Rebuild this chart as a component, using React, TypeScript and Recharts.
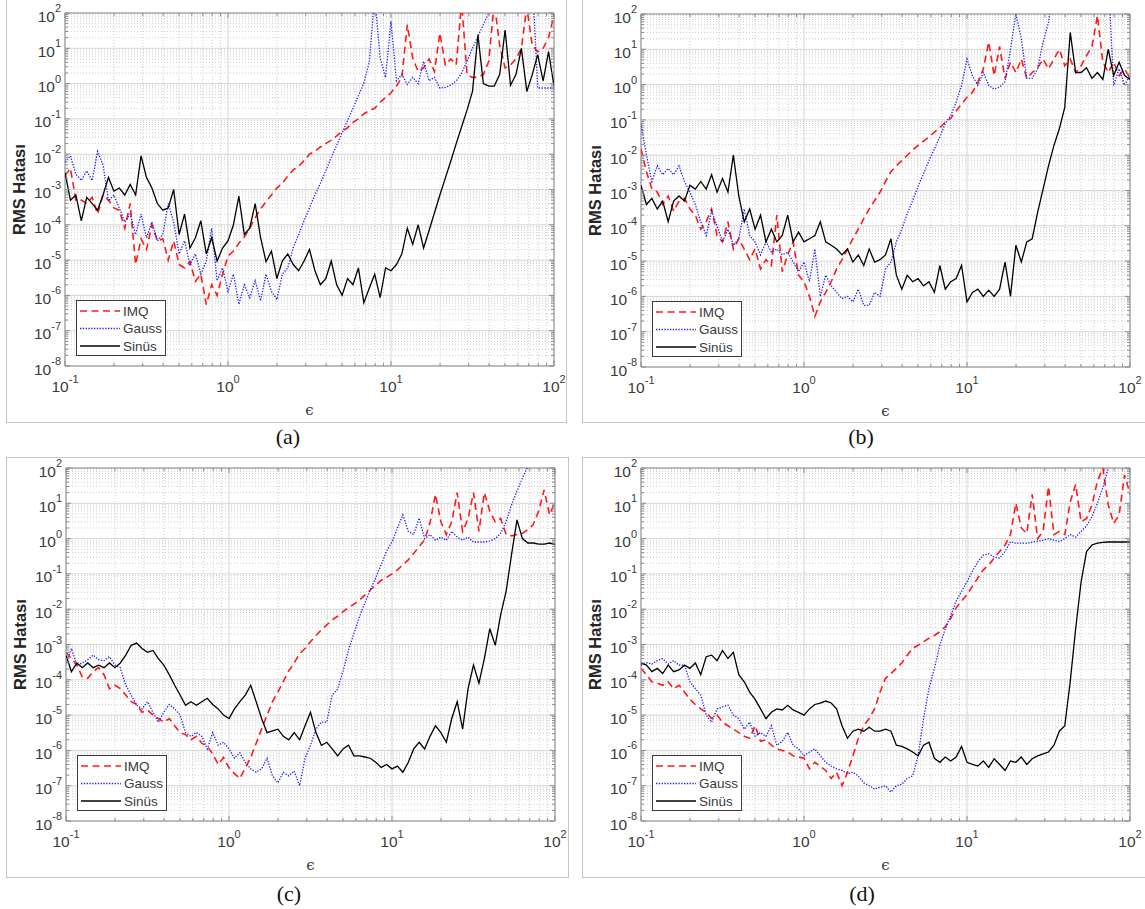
import React from 'react';
import { LineChart, Line, XAxis, YAxis, CartesianGrid, ReferenceArea, Legend } from 'recharts';

// epsilon values (shared x categories, 1/30 decade steps)
const EPS = [
  0.1, 0.108, 0.1166, 0.1259, 0.1359, 0.1468, 0.1585, 0.1711, 0.1848, 0.1995,
  0.2154, 0.2326, 0.2512, 0.2712, 0.2929, 0.3162, 0.3415, 0.3687, 0.3981, 0.4299,
  0.4642, 0.5012, 0.5412, 0.5843, 0.631, 0.6813, 0.7356, 0.7943, 0.8577, 0.9261,
  1, 1.08, 1.166, 1.259, 1.359, 1.468, 1.585, 1.711, 1.848, 1.995,
  2.154, 2.326, 2.512, 2.712, 2.929, 3.162, 3.415, 3.687, 3.981, 4.299,
  4.642, 5.012, 5.412, 5.843, 6.31, 6.813, 7.356, 7.943, 8.577, 9.261,
  10, 10.8, 11.66, 12.59, 13.59, 14.68, 15.85, 17.11, 18.48, 19.95,
  21.54, 23.26, 25.12, 27.12, 29.29, 31.62, 34.15, 36.87, 39.81, 42.99,
  46.42, 50.12, 54.12, 58.43, 63.1, 68.13, 73.56, 79.43, 85.77, 92.61,
  100,
];

// ---- panel (a)
const IMQ_A = [
  2.5e-3, 4e-3, 5e-4, 5e-4, 4e-4, 6e-4, 2e-4, 7e-4, 5e-4, 3e-4,
  2.6e-4, 8e-5, 4e-4, 7.5e-6, 4e-5, 2e-5, 1e-4, 3.5e-5, 4e-5, 1e-5,
  3.5e-5, 7.5e-6, 6e-6, 9e-6, 2.5e-6, 4e-6, 5.5e-7, 2e-6, 1e-6, 4e-6,
  1.3e-5, 1.8e-5, 3e-5, 4.5e-5, 8e-5, 1.6e-4, 2.8e-4, 4.5e-4, 7e-4, 1.1e-3,
  1.5e-3, 2.4e-3, 3.6e-3, 4.5e-3, 6.6e-3, 1e-2, 1.2e-2, 1.6e-2, 2e-2, 2.5e-2,
  3.3e-2, 4.5e-2, 5.6e-2, 8e-2, 0.1, 0.14, 0.17, 0.2, 0.3, 0.4,
  0.55, 0.85, 1.5, 47, 5.3, 2.2, 2.8, 5, 2.2, 27,
  3.4, 5, 3.4, 200, 1.8, 1.5, 1.5, 1.8, 4.3, 200,
  12, 2.8, 3.4, 5, 10, 150, 12, 8, 10, 20,
  90,
];
const GAUSS_A = [
  6e-3, 9e-3, 2.7e-3, 1.8e-3, 3.4e-3, 1.8e-3, 1.2e-2, 5e-3, 4.7e-4, 7e-4,
  3e-4, 1.2e-4, 2e-4, 5.3e-5, 2e-4, 4.3e-5, 1.2e-4, 3.5e-5, 5.3e-5, 4e-4,
  1.2e-4, 1.5e-5, 3.5e-5, 7.5e-6, 1.5e-5, 4e-6, 9.4e-6, 8e-5, 2.6e-6, 6e-6,
  1.3e-6, 4e-6, 5.6e-7, 2e-6, 8.6e-7, 2.6e-6, 7e-7, 4e-6, 1.3e-6, 7.7e-7,
  4e-6, 6e-6, 2.2e-5, 5.3e-5, 1.3e-4, 3e-4, 7e-4, 1.5e-3, 3.4e-3, 8e-3,
  1.8e-2, 4e-2, 9e-2, 0.2, 0.45, 1.05, 4, 300, 5.3, 1.5,
  58, 1.2, 1.8, 0.95, 1.5, 1, 4.3, 1.2, 1.5, 0.75,
  0.78, 0.9, 1.2, 2, 4.3, 10, 22, 47, 100, 1000,
  1000, 1000, 1000, 1000, 1000, 1000, 1000, 0.75, 0.75, 0.75,
  0.75,
];
const SINUS_A = [
  3e-3, 5e-4, 7e-4, 1.3e-4, 6e-4, 4e-4, 2.6e-4, 7e-4, 2.2e-3, 9e-4,
  1.1e-3, 7e-4, 1.4e-3, 7e-4, 9e-3, 2.2e-3, 1.1e-3, 4e-4, 2.6e-4, 3e-4,
  1e-3, 5.3e-5, 2e-4, 2.2e-5, 4.3e-5, 1.3e-4, 1.5e-5, 4.3e-5, 9.4e-6, 2.2e-5,
  3.5e-5, 1e-4, 6.5e-4, 5.3e-5, 8e-5, 4e-4, 4.3e-5, 9e-6, 1.8e-5, 3e-6,
  9.4e-6, 1.5e-5, 7.5e-6, 5e-6, 9.4e-6, 2e-5, 5e-6, 2e-6, 3e-6, 9.4e-6,
  2e-6, 1e-6, 3e-6, 2e-6, 6e-6, 6.2e-7, 1.6e-6, 4e-6, 8.6e-7, 6e-6,
  5e-6, 7.5e-6, 1.5e-5, 8e-5, 2.8e-5, 1e-4, 2.2e-5, 6.8e-5, 2.2e-4, 7e-4,
  2.1e-3, 6.3e-3, 2e-2, 6e-2, 0.18, 0.6, 24, 1, 0.85, 0.85,
  1.8, 33, 0.9, 1.8, 10, 0.6, 1.8, 6.6, 1.2, 8,
  0.85,
];

// ---- panel (b)
const IMQ_B = [
  1.5e-2, 3.4e-3, 1.1e-3, 9e-4, 4e-4, 7e-4, 2.6e-4, 5e-4, 6e-4, 3e-4,
  2e-4, 8e-5, 1.3e-4, 3e-4, 5.3e-5, 3.5e-5, 1.3e-4, 2.2e-5, 4.3e-5, 2.2e-5,
  1.1e-5, 2.2e-5, 6e-6, 1.1e-5, 7.5e-6, 2e-4, 5e-6, 1.5e-5, 3.5e-5, 4e-6,
  2.6e-6, 1e-6, 2.7e-7, 7e-7, 1.3e-6, 2.6e-6, 6e-6, 1.1e-5, 2.2e-5, 4.3e-5,
  8e-5, 1.6e-4, 3e-4, 5.2e-4, 9e-4, 1.8e-3, 3.4e-3, 5e-3, 7e-3, 1e-2,
  1.4e-2, 1.9e-2, 2.5e-2, 3.3e-2, 4.5e-2, 6e-2, 8.6e-2, 0.11, 0.18, 0.28,
  0.44, 0.6, 1.2, 2.8, 16, 1.8, 12, 1.5, 4.3, 2.2,
  5.3, 1.5, 2.2, 3, 5.3, 2.8, 5.3, 10, 3.4, 5.3,
  2.2, 3.4, 6.6, 12, 90, 4.3, 2.2, 4.3, 1.8, 2.8,
  1.5,
];
const GAUSS_B = [
  8e-2, 1e-2, 1.8e-3, 5e-3, 2.8e-3, 4.2e-3, 2.8e-3, 5e-3, 1.8e-3, 9e-4,
  4e-4, 1.3e-4, 5.3e-5, 2.6e-4, 1e-4, 3.5e-5, 8e-5, 2.8e-5, 4.3e-5, 3e-4,
  5.3e-5, 3.5e-5, 1.5e-5, 3.5e-5, 1.8e-5, 2.2e-5, 1.5e-5, 1.8e-5, 9.4e-6, 5e-6,
  9.4e-6, 2.6e-6, 2.2e-5, 1e-6, 4e-6, 2e-6, 1.3e-6, 8.6e-7, 1e-6, 7e-7,
  1.6e-6, 5.6e-7, 5.6e-7, 1.3e-6, 1e-6, 6e-6, 9.4e-6, 3.5e-5, 8e-5, 2.2e-4,
  5.2e-4, 1.3e-3, 3e-3, 7e-3, 1.5e-2, 3.3e-2, 8e-2, 0.13, 0.32, 0.95,
  5.3, 1.8, 0.95, 2.2, 0.95, 0.75, 0.85, 1.2, 10, 100,
  20, 1.5, 1.5, 2.8, 16, 58, 1000, 1000, 1000, 1000,
  1000, 1000, 1000, 1000, 1000, 1000, 1000, 0.95, 2.8, 0.95,
  1.8,
];
const SINUS_B = [
  1.4e-3, 4e-4, 6e-4, 3e-4, 5e-4, 1.3e-4, 5e-4, 7e-4, 5e-4, 1.4e-3,
  1.1e-3, 1.8e-3, 1.1e-3, 2.8e-3, 9e-4, 2.2e-3, 9e-4, 1e-2, 7e-4, 1.3e-4,
  3e-4, 8e-5, 2e-4, 3.5e-5, 8e-5, 3.5e-5, 5.3e-5, 2e-4, 3.5e-5, 6.6e-5,
  3.5e-5, 4.3e-5, 5.3e-5, 1.3e-4, 3.5e-5, 2.8e-5, 2.2e-5, 1.5e-5, 2.2e-5, 9.4e-6,
  1.5e-5, 7.5e-6, 2.2e-5, 9.4e-6, 1.1e-5, 1.5e-5, 4.3e-5, 4e-6, 1.6e-6, 4e-6,
  2.6e-6, 3.2e-6, 2e-6, 2.6e-6, 1.3e-6, 7.5e-6, 1.6e-6, 2.6e-6, 3.2e-6, 7.5e-6,
  7e-7, 1.3e-6, 1.6e-6, 1e-6, 1.5e-6, 1e-6, 1.6e-6, 9.4e-6, 1e-6, 2.8e-5,
  9.4e-6, 3.5e-5, 4.3e-5, 2.4e-4, 1.1e-3, 5e-3, 1.9e-2, 5.6e-2, 0.23, 30,
  2.2, 2.2, 3, 1.5, 2.2, 1.4, 10, 1.8, 4.3, 1.8,
  1.4,
];

// ---- panel (c)
const IMQ_C = [
  6e-4, 4e-4, 2.6e-4, 1.2e-4, 1.1e-4, 1.7e-4, 2.2e-4, 1.4e-4, 5.6e-5, 7e-5,
  5.6e-5, 3.7e-5, 2.4e-5, 2e-5, 1.2e-5, 1.4e-5, 1e-5, 8e-6, 6.3e-6, 8e-6,
  5e-6, 3.2e-6, 2.8e-6, 2e-6, 2.5e-6, 1.6e-6, 1.3e-6, 8e-7, 4e-7, 6.3e-7,
  3.2e-7, 2.2e-7, 1.6e-7, 3.2e-7, 6.3e-7, 1.6e-6, 4e-6, 1e-5, 2.4e-5, 4.5e-5,
  9e-5, 1.8e-4, 3e-4, 5.5e-4, 7.7e-4, 1.2e-3, 1.8e-3, 2.6e-3, 3.6e-3, 5e-3,
  6.3e-3, 8.6e-3, 1.1e-2, 1.4e-2, 1.8e-2, 2.5e-2, 3.5e-2, 4.7e-2, 6.6e-2, 8e-2,
  0.1, 0.13, 0.18, 0.25, 0.38, 0.6, 0.92, 2.8, 18, 3,
  1.3, 3, 20, 1.6, 3.7, 20, 1.6, 20, 6, 3,
  3.7, 1.3, 1.2, 1.3, 1.4, 1.8, 2.5, 6, 24, 4.7,
  11,
];
const GAUSS_C = [
  3e-4, 7.7e-4, 2.6e-4, 3e-4, 3.7e-4, 5e-4, 3.7e-4, 3.5e-4, 4.5e-4, 2.6e-4,
  2.2e-4, 7e-5, 3.7e-5, 1.9e-5, 1.5e-5, 2.4e-5, 1.2e-5, 6.3e-6, 1.2e-5, 2e-5,
  1.5e-5, 1e-5, 3.2e-6, 2.5e-6, 3.2e-6, 2.5e-6, 1.1e-6, 3.2e-6, 1.4e-6, 1.7e-6,
  1.1e-6, 6e-7, 8.6e-7, 4.6e-7, 3e-7, 2.4e-7, 3e-7, 6e-7, 1.9e-7, 1.2e-7,
  2.4e-7, 1.9e-7, 2.6e-7, 1e-7, 6e-7, 1.4e-6, 4e-6, 6.3e-6, 6.3e-6, 3.7e-5,
  5.5e-5, 1.8e-4, 7e-4, 2.1e-3, 6e-3, 1.5e-2, 3.5e-2, 7.7e-2, 0.18, 0.45,
  0.8, 2, 4.7, 1.6, 1.3, 3.8, 1, 1.3, 0.9, 1.1,
  0.9, 1.6, 1.1, 0.9, 1.1, 0.8, 0.8, 0.8, 0.85, 1,
  1.4, 3, 9, 22, 52, 110, 1000, 1000, 1000, 1000,
  1000,
];
const SINUS_C = [
  5e-4, 1.7e-4, 3e-4, 2.2e-4, 3e-4, 2.2e-4, 2.6e-4, 2.2e-4, 3e-4, 2.2e-4,
  3e-4, 5e-4, 9.5e-4, 1.1e-3, 7.7e-4, 6e-4, 6.8e-4, 4e-4, 2.6e-4, 1.4e-4,
  7e-5, 3.7e-5, 1.9e-5, 2.4e-5, 1.9e-5, 2.4e-5, 3e-5, 2e-5, 1.5e-5, 1e-5,
  8e-6, 1.5e-5, 2.4e-5, 3.7e-5, 7e-5, 2.4e-5, 8e-6, 3.2e-6, 3.6e-6, 4e-6,
  2.5e-6, 2e-6, 3.2e-6, 2e-6, 5e-6, 1.2e-5, 3.2e-6, 1.4e-6, 1.7e-6, 1.1e-6,
  7e-7, 1.1e-6, 1.4e-6, 7e-7, 7e-7, 6.5e-7, 6e-7, 4.6e-7, 3.3e-7, 4e-7,
  3e-7, 3.6e-7, 2.4e-7, 4.6e-7, 1.1e-6, 1.7e-6, 1.1e-6, 2.5e-6, 5e-6, 3.2e-6,
  1.7e-6, 8e-6, 2.4e-5, 4e-6, 5.6e-5, 2.6e-4, 8e-5, 4e-4, 2.8e-3, 9.5e-4,
  7e-3, 3.2e-2, 0.35, 3.4, 1, 0.75, 0.75, 0.7, 0.7, 0.75,
  0.68,
];

// ---- panel (d)
const IMQ_D = [
  2.1e-4, 1.4e-4, 8.8e-5, 8e-5, 7e-5, 8.8e-5, 5.6e-5, 7e-5, 4.5e-5, 2.8e-5,
  2e-5, 1.5e-5, 1.2e-5, 8e-6, 1e-5, 6.3e-6, 5e-6, 4e-6, 3.2e-6, 2.5e-6,
  2.2e-6, 5e-6, 1.8e-6, 2e-6, 1.4e-6, 1.1e-6, 1e-6, 9e-7, 7e-7, 6.5e-7,
  6e-7, 3e-7, 4.6e-7, 3.6e-7, 2.7e-7, 1.6e-7, 2.4e-7, 1e-7, 2.4e-7, 7e-7,
  2.2e-6, 5e-6, 8e-6, 1.5e-5, 4.5e-5, 1.1e-4, 1.5e-4, 2.1e-4, 3e-4, 5e-4,
  7.7e-4, 9.5e-4, 1.2e-3, 1.5e-3, 1.8e-3, 2.3e-3, 3.2e-3, 5.5e-3, 1.1e-2, 1.7e-2,
  2.6e-2, 4.5e-2, 7.7e-2, 0.13, 0.18, 0.28, 0.43, 0.66, 1.3, 10,
  2, 1.4, 18, 1, 1.6, 30, 1.3, 1.6, 1.3, 11,
  34, 3, 3.7, 9, 42, 100, 9, 2.7, 4.7, 64,
  18,
];
const GAUSS_D = [
  2.6e-4, 3e-4, 2.8e-4, 3.5e-4, 4e-4, 2.8e-4, 3.5e-4, 2.6e-4, 2.6e-4, 8.8e-5,
  5.6e-5, 3.7e-5, 1e-5, 6.3e-6, 1.5e-5, 1.7e-5, 1.9e-5, 1e-5, 8e-6, 4e-6,
  6.3e-6, 2.5e-6, 3.2e-6, 2.5e-6, 5e-6, 1.4e-6, 1.8e-6, 3.2e-6, 1.4e-6, 1.1e-6,
  7e-7, 9e-7, 1.1e-6, 7e-7, 4.6e-7, 3.6e-7, 3e-7, 2.7e-7, 2.2e-7, 2.4e-7,
  1.9e-7, 1.2e-7, 1e-7, 8e-8, 9e-8, 1e-7, 6.6e-8, 1e-7, 1.1e-7, 1.6e-7,
  1.9e-7, 7e-7, 8e-6, 5.6e-5, 2.1e-4, 9.5e-4, 2.8e-3, 6.6e-3, 1.7e-2, 3.2e-2,
  6e-2, 0.12, 0.22, 0.34, 0.37, 0.3, 0.28, 0.43, 0.82, 0.74,
  0.74, 0.74, 0.8, 0.85, 0.9, 1, 0.9, 0.82, 1, 1.3,
  1.1, 1.6, 2.3, 4.2, 10, 28, 100, 1000, 1000, 1000,
  1000,
];
const SINUS_D = [
  3e-4, 2.6e-4, 1.7e-4, 2.1e-4, 1.5e-4, 2.6e-4, 1.7e-4, 1.9e-4, 2.6e-4, 2.1e-4,
  3e-4, 1.4e-4, 4.5e-4, 5e-4, 3.5e-4, 6.8e-4, 4e-4, 6e-4, 1.4e-4, 8.8e-5,
  4.5e-5, 2.8e-5, 1.5e-5, 8e-6, 1.2e-5, 1.5e-5, 1.4e-5, 1.9e-5, 1.4e-5, 1.2e-5,
  1e-5, 1.5e-5, 2e-5, 2.2e-5, 2.5e-5, 2.2e-5, 1.5e-5, 5e-6, 2.2e-6, 3.5e-6,
  4e-6, 3.5e-6, 4.5e-6, 3.5e-6, 3.5e-6, 4e-6, 3.5e-6, 1.4e-6, 1.3e-6, 1.1e-6,
  9e-7, 7e-7, 1.4e-6, 1.7e-6, 6e-7, 4.6e-7, 6.5e-7, 5e-7, 6.5e-7, 1.3e-6,
  4.6e-7, 4e-7, 3.6e-7, 5e-7, 3.3e-7, 5.8e-7, 4e-7, 2.7e-7, 5e-7, 4.6e-7,
  6.5e-7, 4e-7, 5.8e-7, 7e-7, 8e-7, 9e-7, 1.4e-6, 3.5e-6, 5e-6, 9e-5,
  2.8e-3, 6e-2, 0.43, 0.66, 0.74, 0.78, 0.8, 0.8, 0.8, 0.8,
  0.8,
];

// tick exponents
const X_EXP = [-1, 0, 1, 2];
const Y_EXP = [-8, -7, -6, -5, -4, -3, -2, -1, 0, 1, 2];
const MANT = [1, 2, 3, 4, 5, 6, 7, 8, 9];
const buildTicks = (exps: number[]) => [
  ...exps.slice(0, -1).flatMap((e) => MANT.map((m) => m * 10 ** e)),
  10 ** exps[exps.length - 1],
];
const isMajor = (v: number) => Math.abs(Math.log10(v) - Math.round(Math.log10(v))) < 1e-9;
const X_TICKS = buildTicks(X_EXP);
const Y_TICKS = buildTicks(Y_EXP);
const X_MAJOR = X_TICKS.filter(isMajor);
const X_MINOR = X_TICKS.filter((v) => !isMajor(v));
const Y_MAJOR = Y_TICKS.filter(isMajor);
const Y_MINOR = Y_TICKS.filter((v) => !isMajor(v));

const SERIES = [
  { key: 'imq', name: 'IMQ', color: '#ff1a1a', dash: '7 4.5', width: 1.6 },
  { key: 'gauss', name: 'Gauss', color: '#1a1aff', dash: '1.3 1.5', width: 1.3 },
  { key: 'sinus', name: 'Sinüs', color: '#000000', dash: undefined as string | undefined, width: 1.3 },
];

const AXIS_COLOR = '#8c8c8c';
const TEXT = '#3a3a3a';
const FONT = '"Liberation Sans", Arial, Helvetica, sans-serif';
const PLOT_W = 489;
const PLOT_H = 353;

const PANELS = [
  { id: 'a', left: 0, top: 0, width: 572, height: 456, plotX: 65, plotY: 13, imq: IMQ_A, gauss: GAUSS_A, sinus: SINUS_A },
  { id: 'b', left: 574, top: 0, width: 571, height: 456, plotX: 641, plotY: 14, imq: IMQ_B, gauss: GAUSS_B, sinus: SINUS_B },
  { id: 'c', left: 0, top: 456, width: 572, height: 453, plotX: 66, plotY: 468, imq: IMQ_C, gauss: GAUSS_C, sinus: SINUS_C },
  { id: 'd', left: 574, top: 456, width: 571, height: 453, plotX: 641, plotY: 468, imq: IMQ_D, gauss: GAUSS_D, sinus: SINUS_D },
];

const FRAMES = [
  { left: 6, top: -1, width: 561, height: 424 },
  { left: 582, top: -1, width: 600, height: 424 },
  { left: 6, top: 457, width: 563, height: 421 },
  { left: 582, top: 457, width: 600, height: 421 },
];

const CAPTIONS = [
  { text: '(a)', x: 288, y: 437 },
  { text: '(b)', x: 861, y: 437 },
  { text: '(c)', x: 289, y: 894 },
  { text: '(d)', x: 862, y: 894 },
];

const makeXTick = (top: number, bottom: number) => (props: any) => {
  const { x, payload } = props;
  const v = payload.value as number;
  const major = isMajor(v);
  const len = major ? 5 : 3;
  return (
    <g>
      <line x1={x} x2={x} y1={bottom} y2={bottom - len} stroke={AXIS_COLOR} strokeWidth={1} />
      <line x1={x} x2={x} y1={top} y2={top + len} stroke={AXIS_COLOR} strokeWidth={1} />
      {major ? (
        <text x={x} y={bottom + 26} textAnchor="middle" fill={TEXT} fontFamily={FONT} fontSize={15.5}>
          10
          <tspan dy={-9} fontSize={11}>
            {Math.round(Math.log10(v))}
          </tspan>
        </text>
      ) : null}
    </g>
  );
};

const makeYTick = (left: number, right: number) => (props: any) => {
  const { y, payload } = props;
  const v = payload.value as number;
  const major = isMajor(v);
  const len = major ? 5 : 3;
  return (
    <g>
      <line x1={left} x2={left + len} y1={y} y2={y} stroke={AXIS_COLOR} strokeWidth={1} />
      <line x1={right} x2={right - len} y1={y} y2={y} stroke={AXIS_COLOR} strokeWidth={1} />
      {major ? (
        <text x={left - 4} y={y + 8.5} textAnchor="end" fill={TEXT} fontFamily={FONT} fontSize={15.5}>
          10
          <tspan dy={-9.5} fontSize={11}>
            {Math.round(Math.log10(v))}
          </tspan>
        </text>
      ) : null}
    </g>
  );
};

const LegendBox = () => (
  <div
    style={{
      width: 90,
      height: 56,
      boxSizing: 'border-box',
      border: '1px solid #3a3a3a',
      background: '#ffffff',
    }}
  >
    <svg width={88} height={54} style={{ display: 'block' }}>
      {SERIES.map((s, i) => (
        <g key={s.key}>
          <line
            x1={3}
            x2={43}
            y1={10 + i * 17.5}
            y2={10 + i * 17.5}
            stroke={s.color}
            strokeWidth={s.width}
            strokeDasharray={s.dash}
          />
          <text x={46} y={10 + i * 17.5} dominantBaseline="central" fontSize={13.5} fontFamily={FONT} fill={TEXT}>
            {s.name}
          </text>
        </g>
      ))}
    </svg>
  </div>
);

function Panel({ p }: { p: (typeof PANELS)[number] }) {
  const data = EPS.map((x, i) => ({ x, imq: p.imq[i], gauss: p.gauss[i], sinus: p.sinus[i] }));
  const plotLeft = p.plotX - p.left;
  const plotTop = p.plotY - p.top;
  const plotRight = plotLeft + PLOT_W;
  const plotBottom = plotTop + PLOT_H;
  // axes take 1px each (a zero-sized axis is not drawn)
  const margin = {
    left: plotLeft - 1,
    top: plotTop,
    right: p.width - plotRight,
    bottom: p.height - plotBottom - 1,
  };
  const cx = plotLeft + PLOT_W / 2;
  const cy = plotTop + PLOT_H / 2;
  const ylx = plotLeft - 46;
  return (
    <div style={{ position: 'absolute', left: p.left, top: p.top, width: p.width, height: p.height }}>
      <LineChart width={p.width} height={p.height} data={data} margin={margin}>
        <CartesianGrid
          horizontalValues={Y_MINOR}
          verticalValues={X_MINOR}
          stroke="#cfcfcf"
          strokeDasharray="1 2"
        />
        <CartesianGrid horizontalValues={Y_MAJOR} verticalValues={X_MAJOR} stroke="#d6d6d6" />
        <XAxis
          dataKey="x"
          type="number"
          scale="log"
          domain={[X_TICKS[0], X_TICKS[X_TICKS.length - 1]]}
          allowDataOverflow
          ticks={X_TICKS}
          interval={0}
          height={1}
          axisLine={false}
          tickLine={false}
          tick={makeXTick(plotTop, plotBottom)}
          label={() => (
            <text
              x={cx}
              y={plotBottom + 49}
              textAnchor="middle"
              fontFamily='"DejaVu Serif", serif'
              fontSize={15}
              fill={TEXT}
            >
              ϵ
            </text>
          )}
        />
        <YAxis
          type="number"
          scale="log"
          domain={[Y_TICKS[0], Y_TICKS[Y_TICKS.length - 1]]}
          allowDataOverflow
          ticks={Y_TICKS}
          interval={0}
          width={1}
          axisLine={false}
          tickLine={false}
          tick={makeYTick(plotLeft, plotRight)}
          label={() => (
            <text
              x={ylx}
              y={cy}
              transform={`rotate(-90 ${ylx} ${cy})`}
              textAnchor="middle"
              dominantBaseline="central"
              fontFamily={FONT}
              fontWeight="bold"
              fontSize={16.5}
              fill="#262626"
            >
              RMS Hatası
            </text>
          )}
        />
        <ReferenceArea
          x1={X_TICKS[0]}
          x2={X_TICKS[X_TICKS.length - 1]}
          y1={Y_TICKS[0]}
          y2={Y_TICKS[Y_TICKS.length - 1]}
          fill="none"
          fillOpacity={0}
          stroke={AXIS_COLOR}
          strokeWidth={1}
          ifOverflow="visible"
        />
        {SERIES.map((s) => (
          <Line
            key={s.key}
            type="linear"
            dataKey={s.key}
            name={s.name}
            stroke={s.color}
            strokeWidth={s.width}
            strokeDasharray={s.dash}
            dot={false}
            activeDot={false}
            isAnimationActive={false}
          />
        ))}
        <Legend
          layout="vertical"
          align="center"
          verticalAlign="middle"
          content={() => <LegendBox />}
          wrapperStyle={{ left: plotLeft + 11, top: plotTop + 287, width: 90, height: 56 }}
        />
      </LineChart>
    </div>
  );
}

export default function App() {
  return (
    <div
      style={{
        position: 'absolute',
        left: 0,
        top: 0,
        width: 1145,
        height: 909,
        background: '#ffffff',
        overflow: 'hidden',
      }}
    >
      {FRAMES.map((f, i) => (
        <div
          key={i}
          style={{
            position: 'absolute',
            left: f.left,
            top: f.top,
            width: f.width,
            height: f.height,
            boxSizing: 'border-box',
            border: '1px solid #c4c4c4',
          }}
        />
      ))}
      {PANELS.map((p) => (
        <Panel key={p.id} p={p} />
      ))}
      {CAPTIONS.map((c) => (
        <div
          key={c.text}
          style={{
            position: 'absolute',
            left: c.x - 40,
            top: c.y - 14,
            width: 80,
            height: 28,
            lineHeight: '28px',
            textAlign: 'center',
            fontFamily: '"Liberation Serif", "Times New Roman", serif',
            fontSize: 22,
            color: '#111',
          }}
        >
          {c.text}
        </div>
      ))}
    </div>
  );
}
